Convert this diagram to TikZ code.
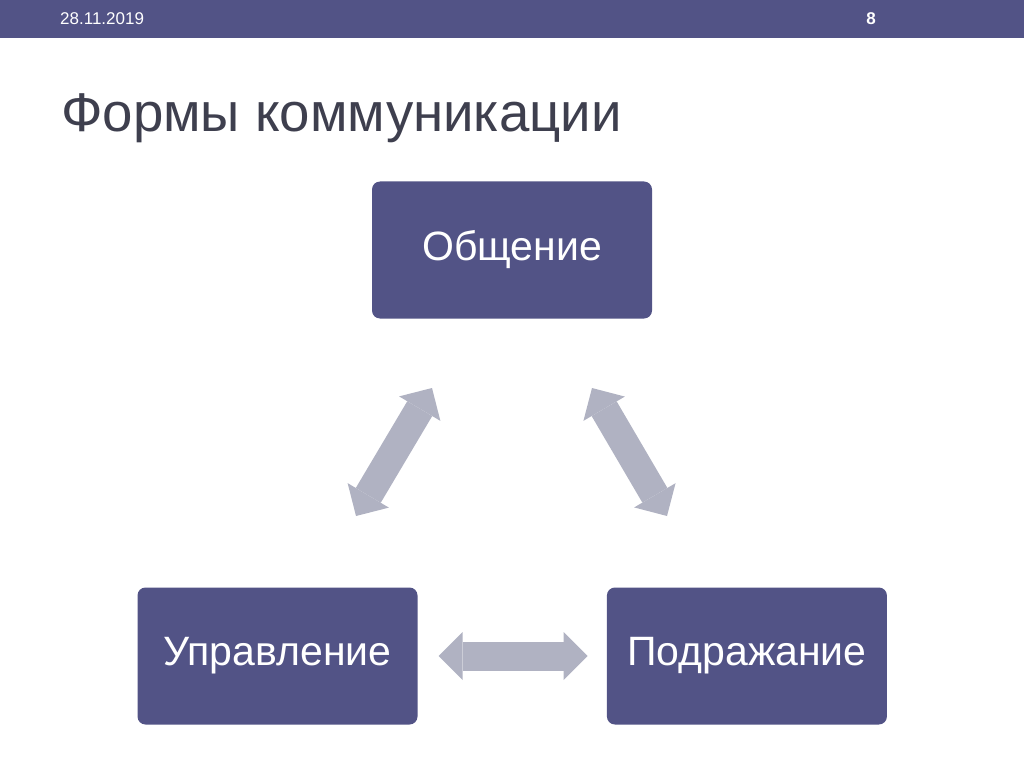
\documentclass[tikz,border=0pt]{standalone}
\usepackage{fontspec}
\setmainfont{Liberation Sans}
\usetikzlibrary{arrows.meta,positioning}
\definecolor{slate}{RGB}{82,83,134}
\definecolor{arrowgray}{RGB}{176,178,194}
\definecolor{titlegray}{RGB}{62,63,78}

\begin{document}
\begin{tikzpicture}[x=1pt,y=-1pt,% styles for the whole slide
	every node/.style={
		align=center,	% one line per box
		inner sep=0pt
		},
	box/.style={rectangle,rounded corners=8pt,fill=slate,text=white,
		minimum width=280pt,minimum height=137pt,font=\fontsize{41}{48}\selectfont},
	dblarrow/.style={draw=arrowgray,line width=29pt,
		{Triangle[length=24pt,width=48pt,line width=0pt]}-{Triangle[length=24pt,width=48pt,line width=0pt]}}
	]
	\useasboundingbox (0,0) rectangle (1024,767);
	\fill[slate] (0,0) rectangle (1024,38);
	\node[anchor=base west,text=white,font=\fontsize{17}{20}\selectfont](D1) at (60,25){28.11.2019};
	\node[anchor=base,text=white,font=\fontsize{17}{20}\selectfont\bfseries](P1) at (871,25){8};
	\node[anchor=base west,text=titlegray,font=\fontsize{54.6}{60}\selectfont](T1) at (61,132){Формы коммуникации};
	\node[box](R1) at (512,250){Общение};
	\node[box](R2) at (277.5,656){Управление};
	\node[box](R3)[right=189pt of R2]{Подражание};
	\coordinate (A1) at (356,516);
	\coordinate (A2) at (432,388);
	\coordinate (A3) at (592,388);
	\coordinate (A4) at (667,516);
	\path
	(A1)edge [dblarrow] (A2)
	(A3)edge [dblarrow] (A4)
	(R2)edge [dblarrow,shorten <=21pt,shorten >=19pt] (R3)
	;
\end{tikzpicture}
\end{document}
